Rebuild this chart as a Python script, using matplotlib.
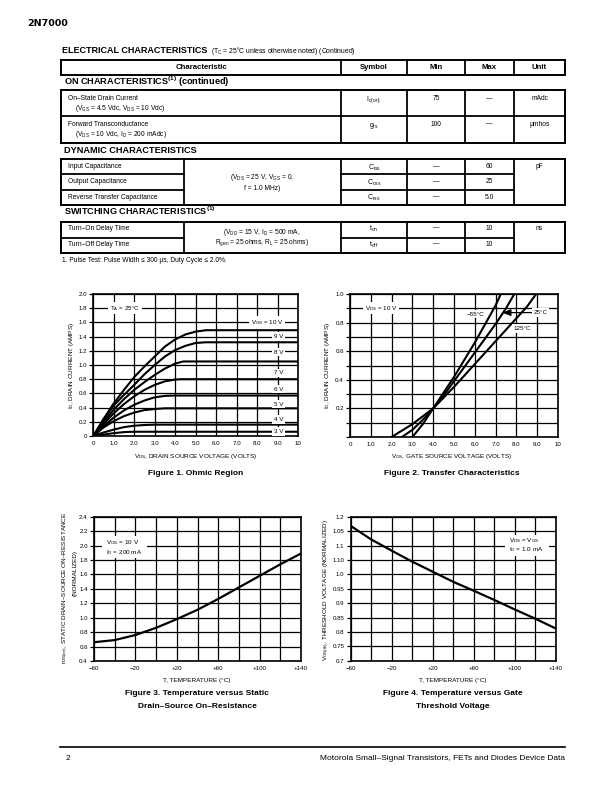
import matplotlib
matplotlib.use('Agg')
import matplotlib.pyplot as plt
from matplotlib.lines import Line2D
from matplotlib.patches import Rectangle
from matplotlib import font_manager

# ---------------- data ----------------
header_cols = ['Characteristic', 'Symbol', 'Min', 'Max', 'Unit']

on_chars = ['On\u2013State Drain Current', 'Forward Transconductance']
on_conds = ['(V$_{GS}$ = 4.5 Vdc, V$_{DS}$ = 10 Vdc)', '(V$_{DS}$ = 10 Vdc, I$_{D}$ = 200 mAdc)']
on_symbols = ['I$_{d(on)}$', 'g$_{fs}$']
on_min = ['75', '100']
on_max = ['\u2014', '\u2014']
on_unit = ['mAdc', '\u03bcmhos']

dyn_chars = ['Input Capacitance', 'Output Capacitance', 'Reverse Transfer Capacitance']
dyn_cond = ['(V$_{DS}$ = 25 V, V$_{GS}$ = 0,', 'f = 1.0 MHz)']
dyn_symbols = ['C$_{iss}$', 'C$_{oss}$', 'C$_{rss}$']
dyn_min = ['\u2014', '\u2014', '\u2014']
dyn_max = ['60', '25', '5.0']
dyn_unit = 'pF'

sw_chars = ['Turn\u2013On Delay Time', 'Turn\u2013Off Delay Time']
sw_cond = ['(V$_{DD}$ = 15 V, I$_{D}$ = 500 mA,', 'R$_{gen}$ = 25 ohms, R$_{L}$ = 25 ohms)']
sw_symbols = ['t$_{on}$', 't$_{off}$']
sw_min = ['\u2014', '\u2014']
sw_max = ['10', '10']
sw_unit = 'ns'

footnote = '1. Pulse Test: Pulse Width \u2264 300 \u03bcs, Duty Cycle \u2264 2.0%.'

# Figure 1: ohmic region, ID (A) vs VDS (V) per VGS
fig1_labels = ['V$_{GS}$ = 10 V', '9 V', '8 V', '7 V', '6 V', '5 V', '4 V', '3 V']
fig1_vds = [
    [0, 0.5, 1, 1.5, 2, 2.5, 3, 3.5, 4, 4.5, 5, 5.5, 10],
    [0, 0.5, 1, 1.5, 2, 2.5, 3, 3.5, 4, 4.5, 5, 5.5, 10],
    [0, 0.5, 1, 1.5, 2, 2.5, 3, 3.5, 4, 4.4, 10],
    [0, 0.5, 1, 1.5, 2, 2.5, 3, 3.5, 4, 4.3, 10],
    [0, 0.5, 1, 1.5, 2, 2.5, 3, 3.5, 4, 10],
    [0, 0.5, 1, 1.5, 2, 2.5, 3, 3.5, 10],
    [0, 0.5, 1, 1.5, 2, 2.5, 3, 10],
    [0, 0.5, 1, 1.5, 2, 10],
]
fig1_id = [
    [0, 0.24, 0.46, 0.65, 0.83, 0.98, 1.12, 1.26, 1.36, 1.43, 1.47, 1.49, 1.49],
    [0, 0.23, 0.43, 0.58, 0.72, 0.87, 1.00, 1.12, 1.21, 1.27, 1.31, 1.32, 1.32],
    [0, 0.20, 0.37, 0.52, 0.65, 0.76, 0.86, 0.95, 1.02, 1.05, 1.05],
    [0, 0.17, 0.32, 0.45, 0.56, 0.65, 0.72, 0.77, 0.795, 0.80, 0.80],
    [0, 0.14, 0.26, 0.36, 0.44, 0.50, 0.545, 0.565, 0.57, 0.57],
    [0, 0.12, 0.21, 0.28, 0.33, 0.365, 0.38, 0.39, 0.39],
    [0, 0.05, 0.09, 0.125, 0.145, 0.155, 0.16, 0.16],
    [0, 0.02, 0.04, 0.055, 0.06, 0.06],
]

# Figure 2: transfer characteristics, ID (A) vs VGS (V)
fig2_labels = ['\u221255\u00b0C', '25\u00b0C', '125\u00b0C']
fig2_vgs = [
    [3.0, 3.5, 4.0, 4.5, 5.0, 5.5, 6.0, 6.5, 7.0, 7.25],
    [2.5, 3.0, 3.5, 4.0, 4.5, 5.0, 5.5, 6.0, 6.5, 7.0, 7.5, 7.9],
    [2.0, 2.5, 3.0, 3.5, 4.0, 4.5, 5.0, 5.5, 6.0, 6.5, 7.0, 7.5, 8.0, 8.5, 8.95],
]
fig2_id = [
    [0, 0.09, 0.20, 0.31, 0.42, 0.54, 0.66, 0.79, 0.92, 1.0],
    [0, 0.05, 0.12, 0.20, 0.29, 0.39, 0.49, 0.59, 0.69, 0.79, 0.90, 1.0],
    [0, 0.045, 0.09, 0.145, 0.20, 0.275, 0.35, 0.43, 0.51, 0.59, 0.67, 0.75, 0.83, 0.91, 1.0],
]

# Figure 3: normalized rDS(on) vs temperature
fig3_temp = [-60, -40, -20, 0, 20, 40, 60, 80, 100, 120, 140]
fig3_rds = [0.66, 0.69, 0.76, 0.86, 0.98, 1.11, 1.26, 1.42, 1.58, 1.74, 1.89]

# Figure 4: normalized VGS(th) vs temperature
fig4_temp = [-60, -40, -20, 0, 20, 40, 60, 80, 100, 120, 140]
fig4_vth = [1.168, 1.121, 1.082, 1.044, 1.009, 0.974, 0.943, 0.911, 0.878, 0.846, 0.812]

fig1_xticklabels = ['0', '1.0', '2.0', '3.0', '4.0', '5.0', '6.0', '7.0', '8.0', '9.0', '10']
fig1_yticklabels = ['0', '0.2', '0.4', '0.6', '0.8', '1.0', '1.2', '1.4', '1.6', '1.8', '2.0']
fig2_yticklabels = ['', '', '0.2', '', '0.4', '', '0.6', '', '0.8', '', '1.0']
temp_ticklabels = ['\u221260', '', '\u221220', '', '+20', '', '+60', '', '+100', '', '+140']
fig3_yticklabels = ['0.4', '0.6', '0.8', '1.0', '1.2', '1.4', '1.6', '1.8', '2.0', '2.2', '2.4']
fig4_yticklabels = ['0.7', '0.75', '0.8', '0.85', '0.9', '0.95', '1.0', '1.10', '1.1', '1.05', '1.2']

# ---------------- style ----------------
W, H = 612, 792
avail = {f.name for f in font_manager.fontManager.ttflist}
SANS = 'Liberation Sans'
NARROW = 'Liberation Sans Narrow' if 'Liberation Sans Narrow' in avail else SANS
plt.rcParams['font.family'] = [SANS, 'DejaVu Sans']
plt.rcParams['mathtext.fontset'] = 'custom'
plt.rcParams['mathtext.rm'] = SANS
plt.rcParams['mathtext.it'] = SANS + ':italic'
plt.rcParams['mathtext.bf'] = SANS + ':bold'
plt.rcParams['mathtext.default'] = 'regular'

fig = plt.figure(figsize=(W / 100, H / 100), dpi=100)
fig.patch.set_facecolor('white')


def T(x, y, s, size=5.0, ha='left', weight='normal', family=None, rot=0):
    # y = visual centre of capitals (px from top)
    if rot == 0:
        yb = y + 0.36 * size * 100 / 72
        fig.text(x / W, 1 - yb / H, s, fontsize=size, ha=ha, va='baseline',
                 fontweight=weight, family=[family or SANS, 'DejaVu Sans'])
    else:
        fig.text(x / W, 1 - y / H, s, fontsize=size, ha='center', va='center',
                 rotation=rot, fontweight=weight, family=[family or SANS, 'DejaVu Sans'])


def HL(x1, x2, y, lw=1.3):
    fig.add_artist(Line2D([x1 / W, x2 / W], [1 - y / H, 1 - y / H], lw=lw, color='k',
                          solid_capstyle='projecting'))


def VL(x, y1, y2, lw=1.3):
    fig.add_artist(Line2D([x / W, x / W], [1 - y1 / H, 1 - y2 / H], lw=lw, color='k',
                          solid_capstyle='projecting'))


def BOX(x1, y1, x2, y2, lw=1.4):
    HL(x1, x2, y1, lw); HL(x1, x2, y2, lw); VL(x1, y1, y2, lw); VL(x2, y1, y2, lw)


# ---------------- page header ----------------
T(27, 22.5, '2N7000', size=6.8, weight='bold', family='DejaVu Sans')
T(62, 50, 'ELECTRICAL CHARACTERISTICS', size=6.5, weight='bold', family=NARROW)
T(211, 50.5, '(T$_{C}$ = 25\u00b0C unless otherwise noted) (Continued)', size=4.9)

L, R = 61, 565
cols = [L, 341, 407, 465, 514, R]
cen = [(cols[i] + cols[i + 1]) / 2 for i in range(5)]

# header row
BOX(L, 59.5, R, 74.5)
for c in cols[1:-1]:
    VL(c, 59.5, 74.5)
for i, h in enumerate(header_cols):
    T(cen[i], 66.5, h, size=5.6, ha='center', weight='bold', family=NARROW)

# ON characteristics
T(64, 82, 'ON CHARACTERISTICS$^{\\mathbf{(1)}}$ (continued)', size=6.6, weight='bold', family=NARROW)
BOX(L, 89.5, R, 142.5)
HL(L, R, 116)
for c in cols[1:-1]:
    VL(c, 89.5, 142.5)
row_y = [97.5, 123.3]
for i in range(2):
    y = row_y[i]
    T(68, y, on_chars[i], size=4.8)
    T(75, y + 9.8, on_conds[i], size=4.8)
    T(cen[1], y + 1.2, on_symbols[i], size=5.0, ha='center')
    T(cen[2], y, on_min[i], size=4.8, ha='center')
    T(cen[3], y, on_max[i], size=4.8, ha='center')
    T(cen[4], y, on_unit[i], size=4.8, ha='center')

# Dynamic characteristics
T(64, 150, 'DYNAMIC CHARACTERISTICS', size=6.6, weight='bold', family=NARROW)
c1 = 183.5
top, bot = 159, 204.5
seps = [174.3, 189.7]
BOX(L, top, R, bot)
for c in [c1] + cols[1:-1]:
    VL(c, top, bot)
for s in seps:
    HL(L, c1, s)
    HL(cols[1], cols[4], s)
dyn_y = [165.7, 180.9, 196.3]
for i in range(3):
    y = dyn_y[i]
    T(68, y, dyn_chars[i], size=4.8)
    T(cen[1], y + 1.3, dyn_symbols[i], size=5.0, ha='center')
    T(cen[2], y, dyn_min[i], size=4.8, ha='center')
    T(cen[3], y, dyn_max[i], size=4.8, ha='center')
T(cen[4], dyn_y[0], dyn_unit, size=4.8, ha='center')
T((c1 + cols[1]) / 2, 176.5, dyn_cond[0], size=4.8, ha='center')
T((c1 + cols[1]) / 2, 187.3, dyn_cond[1], size=4.8, ha='center')

# Switching characteristics
T(64, 211.5, 'SWITCHING CHARACTERISTICS$^{\\mathbf{(1)}}$', size=6.6, weight='bold', family=NARROW)
top, bot = 222.3, 253
BOX(L, top, R, bot)
for c in [c1] + cols[1:-1]:
    VL(c, top, bot)
HL(L, c1, 237.7)
HL(cols[1], cols[4], 237.7)
sw_y = [227.3, 243.3]
for i in range(2):
    y = sw_y[i]
    T(68, y, sw_chars[i], size=4.8)
    T(cen[1], y + 1.3, sw_symbols[i], size=5.0, ha='center')
    T(cen[2], y, sw_min[i], size=4.8, ha='center')
    T(cen[3], y, sw_max[i], size=4.8, ha='center')
T(cen[4], sw_y[0], sw_unit, size=4.8, ha='center')
T((c1 + cols[1]) / 2, 231.5, sw_cond[0], size=4.8, ha='center')
T((c1 + cols[1]) / 2, 241.5, sw_cond[1], size=4.8, ha='center')

T(61.5, 260, footnote, size=4.8)


# ---------------- charts ----------------
def make_axes(l, t, r, b, xlim, ylim, xgrid, ygrid, xticklabels, yticklabels):
    ax = fig.add_axes([l / W, 1 - b / H, (r - l) / W, (b - t) / H])
    ax.set_xlim(*xlim)
    ax.set_ylim(*ylim)
    for v in xgrid:
        ax.axvline(v, color='k', lw=0.9, zorder=1)
    for v in ygrid:
        ax.axhline(v, color='k', lw=0.9, zorder=1)
    for sp in ax.spines.values():
        sp.set_linewidth(1.2)
        sp.set_zorder(4)
    ax.set_xticks(xgrid)
    ax.set_xticklabels(xticklabels)
    ax.set_yticks(ygrid)
    ax.set_yticklabels(yticklabels)
    ax.tick_params(axis='x', length=0, pad=3.5, labelsize=4.4)
    ax.tick_params(axis='y', length=3, width=0.9, direction='out', pad=1.5, labelsize=4.4)
    ax.set_facecolor('white')
    return ax


def lab(ax, x, y, s, size=4.5, ha='center'):
    ax.text(x, y, s, ha=ha, va='center', fontsize=size, zorder=5,
            bbox=dict(fc='white', ec='none', pad=1.2))


# Figure 1
ax1 = make_axes(93.3, 294, 298, 436, (0, 10), (0, 2.0),
                [i for i in range(11)], [i * 0.2 for i in range(11)],
                fig1_xticklabels, fig1_yticklabels)
for xs, ys in zip(fig1_vds, fig1_id):
    ax1.plot(xs, ys, color='k', lw=1.5, zorder=3, solid_joinstyle='round')
fig1_lab_pos = [(8.5, 1.6), (9.05, 1.4), (9.05, 1.18), (9.05, 0.89), (9.05, 0.66),
                (9.05, 0.45), (9.05, 0.23), (9.05, 0.065)]
for s, (x, y) in zip(fig1_labels, fig1_lab_pos):
    lab(ax1, x, y, s)
lab(ax1, 1.55, 1.8, 'T$_{A}$ = 25\u00b0C')
T(71.5, 365, 'I$_{D}$, DRAIN CURRENT (AMPS)', size=4.6, rot=90)
T(196, 456, 'V$_{DS}$, DRAIN SOURCE VOLTAGE (VOLTS)', size=4.6, ha='center')
T(196, 472, 'Figure 1. Ohmic Region', size=6.0, ha='center', weight='bold')

# Figure 2
ax2 = make_axes(350, 294, 558, 437, (0, 10), (0, 1.0),
                [i for i in range(11)], [i * 0.1 for i in range(11)],
                fig1_xticklabels, fig2_yticklabels)
for xs, ys in zip(fig2_vgs, fig2_id):
    ax2.plot(xs, ys, color='k', lw=1.5, zorder=3)
lab(ax2, 1.5, 0.9, 'V$_{DS}$ = 10 V')
lab(ax2, 6.05, 0.86, fig2_labels[0])
ax2.annotate('', xy=(7.32, 0.87), xytext=(8.75, 0.87),
             arrowprops=dict(arrowstyle='-|>,head_length=0.5,head_width=0.2', color='k', lw=0.9,
                             shrinkA=0, shrinkB=0), zorder=5)
lab(ax2, 9.15, 0.87, fig2_labels[1])
lab(ax2, 8.3, 0.76, fig2_labels[2])
T(327, 365, 'I$_{D}$, DRAIN CURRENT (AMPS)', size=4.6, rot=90)
T(452, 456, 'V$_{GS}$, GATE SOURCE VOLTAGE (VOLTS)', size=4.6, ha='center')
T(452, 472, 'Figure 2. Transfer Characteristics', size=6.0, ha='center', weight='bold')

# Figure 3
ax3 = make_axes(94, 516.7, 301, 661, (-60, 140), (0.4, 2.4),
                [-60 + 20 * i for i in range(11)], [0.4 + 0.2 * i for i in range(11)],
                temp_ticklabels, fig3_yticklabels)
ax3.plot(fig3_temp, fig3_rds, color='k', lw=1.6, zorder=3)
ax3.add_patch(Rectangle((-52, 1.83), 43, 0.3, fc='white', ec='none', zorder=4))
ax3.text(-48, 2.04, 'V$_{GS}$ = 10 V', fontsize=4.6, va='center', zorder=5)
ax3.text(-48, 1.9, 'I$_{D}$ = 200 mA', fontsize=4.6, va='center', zorder=5)
T(65.5, 588, 'r$_{DS(on)}$, STATIC DRAIN\u2013SOURCE ON\u2013RESISTANCE', size=4.6, rot=90)
T(75.5, 573, '(NORMALIZED)', size=4.6, rot=90)
T(197, 680, 'T, TEMPERATURE (\u00b0C)', size=4.6, ha='center')
T(197, 692, 'Figure 3. Temperature versus Static', size=6.0, ha='center', weight='bold')
T(197, 705.5, 'Drain\u2013Source On\u2013Resistance', size=6.0, ha='center', weight='bold')

# Figure 4
ax4 = make_axes(350.7, 516.7, 555.7, 660.7, (-60, 140), (0.7, 1.2),
                [-60 + 20 * i for i in range(11)], [0.7 + 0.05 * i for i in range(11)],
                temp_ticklabels, fig4_yticklabels)
ax4.plot(fig4_temp, fig4_vth, color='k', lw=1.6, zorder=3)
ax4.add_patch(Rectangle((91, 1.065), 42, 0.07, fc='white', ec='none', zorder=4))
ax4.text(94, 1.117, 'V$_{DS}$ = V$_{GS}$', fontsize=4.6, va='center', zorder=5)
ax4.text(94, 1.085, 'I$_{D}$ = 1.0 mA', fontsize=4.6, va='center', zorder=5)
T(327, 590, 'V$_{GS(th)}$, THRESHOLD VOLTAGE (NORMALIZED)', size=4.6, rot=90)
T(453, 680, 'T, TEMPERATURE (\u00b0C)', size=4.6, ha='center')
T(453, 692, 'Figure 4. Temperature versus Gate', size=6.0, ha='center', weight='bold')
T(453, 705.5, 'Threshold Voltage', size=6.0, ha='center', weight='bold')

# ---------------- footer ----------------
HL(60, 565, 746.7, lw=1.2)
T(66, 757.5, '2', size=6.0)
T(564.5, 757.5, 'Motorola Small\u2013Signal Transistors, FETs and Diodes Device Data', size=6.0, ha='right')

fig.savefig('out.png', dpi=100, facecolor='white')
